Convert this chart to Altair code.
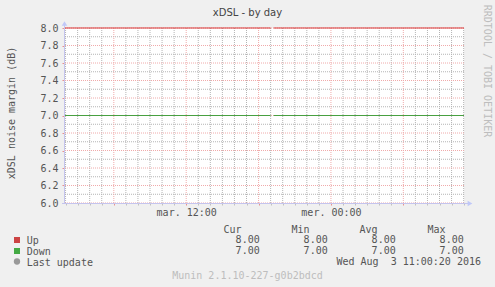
import altair as alt
import pandas as pd

# ---------------- data ----------------
series_names = ["Up", "Down"]
line_colors = ["#d83838", "#48a040"]
legend_colors = ["#cc4444", "#44aa44"]
sample_hours = [1.87, 19.0, 19.25, 35.03]      # hours since mar. 00:00
segment_ids = [0, 0, 1, 1]
up_values = [8.0, 8.0, 8.0, 8.0]
down_values = [7.0, 7.0, 7.0, 7.0]

col_headers = ["Cur", "Min", "Avg", "Max"]
up_stats = ["8.00", "8.00", "8.00", "8.00"]
down_stats = ["7.00", "7.00", "7.00", "7.00"]
last_update = "Wed Aug  3 11:00:20 2016"

x_label_hours = [12, 24]
x_label_texts = ["mar. 12:00", "mer. 00:00"]
y_tick_values = [6.0, 6.2, 6.4, 6.6, 6.8, 7.0, 7.2, 7.4, 7.6, 7.8, 8.0]
x_domain = [1.87, 35.03]
y_domain = [6.0, 8.0]

title_text = "xDSL - by day"
y_title = "xDSL noise margin (dB)"
side_text = "RRDTOOL / TOBI OETIKER"
footer_text = "Munin 2.1.10-227-g0b2bdcd"

# ---------------- tables ----------------
rows = []
for name, vals in zip(series_names, [up_values, down_values]):
    for h, v, s in zip(sample_hours, vals, segment_ids):
        rows.append({"hour": h, "value": v, "series": name, "seg": f"{name}{s}"})
lines_df = pd.DataFrame(rows)

hours_all = list(range(2, 36))
major_x = [h for h in hours_all if h % 6 == 0]
minor_x = [h for h in hours_all if h % 6 != 0]
major_y = [round(6.0 + 0.2 * i, 1) for i in range(11)]
minor_y = [round(6.1 + 0.2 * i, 1) for i in range(10)]

W, H = 400, 175
MONO = "DejaVu Sans Mono"
TXT = "#555555"

xs = alt.Scale(domain=x_domain, nice=False, zero=False)
ys = alt.Scale(domain=y_domain, nice=False, zero=False)

label_expr = " : ".join(
    [f"datum.value == {h} ? '{t}'" for h, t in zip(x_label_hours, x_label_texts)]
) + " : ''"

AX_X = alt.Axis(
    values=hours_all, labelExpr=label_expr, labelOverlap=False, labelFlush=False,
    grid=False, domain=False, tickSize=2,
    tickColor={"condition": {"test": "datum.value % 6 === 0", "value": "#e89090"}, "value": "#c0c0c0"},
    labelFont=MONO, labelFontSize=10, labelColor=TXT, labelPadding=2, title=None,
)
AX_Y = alt.Axis(
    values=y_tick_values, format=".1f", grid=False, domain=False, tickSize=2,
    tickColor="#e89090", labelFont=MONO, labelFontSize=10, labelColor=TXT,
    labelPadding=4, title=None,
)

MINC = "#b4b4b4"
MAJC = "#f0aaaa"
minor_v = alt.Chart(pd.DataFrame({"h": minor_x})).mark_rule(
    color=MINC, strokeDash=[1, 1], strokeWidth=1
).encode(x=alt.X("h:Q", scale=xs, axis=AX_X))
major_v = alt.Chart(pd.DataFrame({"h": major_x})).mark_rule(
    color=MAJC, strokeDash=[1, 1], strokeWidth=1
).encode(x=alt.X("h:Q", scale=xs, axis=AX_X))
minor_h = alt.Chart(pd.DataFrame({"v": minor_y})).mark_rule(
    color=MINC, strokeDash=[1, 1], strokeWidth=1
).encode(y=alt.Y("v:Q", scale=ys, axis=AX_Y))
major_h = alt.Chart(pd.DataFrame({"v": major_y})).mark_rule(
    color=MAJC, strokeDash=[1, 1], strokeWidth=1
).encode(y=alt.Y("v:Q", scale=ys, axis=AX_Y))

data_lines = alt.Chart(lines_df).mark_line(strokeWidth=1.2).encode(
    x=alt.X("hour:Q", scale=xs, axis=AX_X),
    y=alt.Y("value:Q", scale=ys, axis=AX_Y),
    color=alt.Color("series:N", scale=alt.Scale(domain=series_names, range=line_colors), legend=None),
    detail="seg:N",
)

AXC = "#c4c4ee"
y_axis_line = alt.Chart().mark_rule(color=AXC, strokeWidth=1).encode(
    x=alt.value(0.5), y=alt.value(-4), y2=alt.value(H))
x_axis_line = alt.Chart().mark_rule(color=AXC, strokeWidth=1).encode(
    x=alt.value(-2), x2=alt.value(404), y=alt.value(H + 0.5))
y_arrow = alt.Chart().mark_point(shape="triangle-up", filled=True, color="#c0c8f8", size=30, opacity=1).encode(
    x=alt.value(0.5), y=alt.value(-4.5))
x_arrow = alt.Chart().mark_point(shape="triangle-right", filled=True, color="#c0c8f8", size=30, opacity=1).encode(
    x=alt.value(406), y=alt.value(H + 0.5))

def txt(text, x, y, align="left", baseline="alphabetic", color=TXT, font=MONO, angle=0, size=10):
    kw = dict(text=text, align=align, baseline=baseline, color=color, font=font, fontSize=size)
    if angle:
        kw["angle"] = angle
    return alt.Chart().mark_text(**kw).encode(x=alt.value(x), y=alt.value(y))

NBSP = "\u00a0"
texts = [
    txt(title_text, 183.5, -12.5, align="center", font="DejaVu Sans", color="#444444"),
    txt(y_title, -52.5, 85, align="center", baseline="middle", angle=270),
    txt(side_text, 423, 43, align="center", baseline="middle", angle=90, color="#bdbdbd"),
    txt(footer_text, 183.5, 251, align="center", color="#bdbdbd"),
    txt(last_update.replace("  ", " " + NBSP), 417, 236.5, align="right"),
    txt("Last update", -37.3, 238, align="left"),
]
hdr_x = [159.5, 227.5, 295.5, 363.5]
val_x = [195.7, 263.7, 331.7, 399.7]
for hx, h in zip(hdr_x, col_headers):
    texts.append(txt(h, hx, 204.5))
row_y_label = [216.3, 227.3]
row_y_vals = [214.5, 225.5]
for name, stats, ly, vy in zip(series_names, [up_stats, down_stats], row_y_label, row_y_vals):
    texts.append(txt(name, -37.3, ly))
    for vx, s in zip(val_x, stats):
        texts.append(txt(s, vx, vy, align="right"))

swatches = []
for c, sy in zip(legend_colors, [212, 223]):
    swatches.append(alt.Chart().mark_square(color=c, size=36, opacity=1, filled=True).encode(
        x=alt.value(-47), y=alt.value(sy)))
swatches.append(alt.Chart().mark_circle(color="#999999", size=40, opacity=1).encode(
    x=alt.value(-47), y=alt.value(233.5)))

chart = alt.layer(
    minor_v, minor_h, major_v, major_h, data_lines,
    y_axis_line, x_axis_line, y_arrow, x_arrow, *texts, *swatches
).properties(
    width=W, height=H,
    autosize=alt.AutoSizeParams(type="none"),
    padding={"left": 64, "top": 28, "right": 31, "bottom": 84},
).configure(background="#f0f0f0").configure_view(fill="white", stroke=None)

chart.save("out.html", embed_options={"renderer": "svg", "actions": False})
